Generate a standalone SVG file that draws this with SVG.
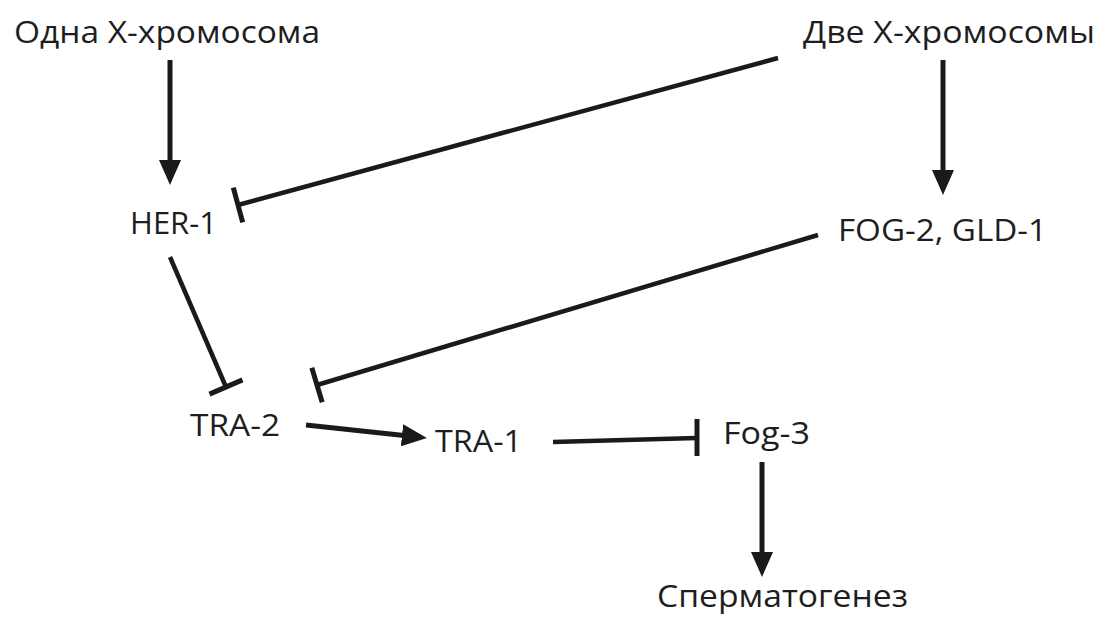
<svg xmlns="http://www.w3.org/2000/svg" width="1106" height="619" viewBox="0 0 1106 619">
<style>
text{font-family:"Open Sans","Noto Sans","Liberation Sans",sans-serif;font-size:31px;fill:#1e1e1e}
.act{stroke:#1a1a1a;stroke-width:5;fill:none;marker-end:url(#arr)}
.inh{stroke:#1a1a1a;stroke-width:4.5;fill:none}
.bar{stroke:#1a1a1a;stroke-width:5;fill:none}
</style>
<defs>
<marker id="arr" markerUnits="userSpaceOnUse" markerWidth="26" markerHeight="22" refX="2" refY="11" orient="auto" viewBox="0 0 26 22">
<path d="M0,0 L25,11 L0,22 z" fill="#1a1a1a"/>
</marker>
</defs>
<rect width="1106" height="619" fill="#ffffff"/>
<g id="n_one_x"><text x="14" y="43" textLength="306" lengthAdjust="spacingAndGlyphs">Одна X-хромосома</text></g>
<g id="n_two_x"><text x="803" y="43" textLength="292" lengthAdjust="spacingAndGlyphs">Две X-хромосомы</text></g>
<g id="n_her1"><text x="130" y="234" textLength="87" lengthAdjust="spacingAndGlyphs">HER-1</text></g>
<g id="n_fog2"><text x="838" y="241" textLength="209" lengthAdjust="spacingAndGlyphs">FOG-2, GLD-1</text></g>
<g id="n_tra2"><text x="190" y="436" textLength="90" lengthAdjust="spacingAndGlyphs">TRA-2</text></g>
<g id="n_tra1"><text x="435" y="452" textLength="87" lengthAdjust="spacingAndGlyphs">TRA-1</text></g>
<g id="n_fog3"><text x="723" y="444" textLength="87" lengthAdjust="spacingAndGlyphs">Fog-3</text></g>
<g id="n_sperm"><text x="657" y="607" textLength="251" lengthAdjust="spacingAndGlyphs">Сперматогенез</text></g>
<g id="connectors">
<line class="act" x1="170" y1="60" x2="170" y2="162"/>
<line class="act" x1="943" y1="60" x2="943" y2="172"/>
<line class="act" x1="306" y1="425" x2="404" y2="435.5"/>
<line class="act" x1="762" y1="462" x2="762" y2="554"/>
<line class="inh" x1="778" y1="58" x2="238" y2="205"/>
<line class="bar" x1="233.3" y1="187.6" x2="242.7" y2="222.4"/>
<line class="inh" x1="818" y1="235" x2="317" y2="385"/>
<line class="bar" x1="311.8" y1="367.8" x2="322.2" y2="402.2"/>
<line class="inh" x1="170" y1="257" x2="226" y2="387"/>
<line class="bar" x1="209.5" y1="394.1" x2="242.5" y2="379.9"/>
<line class="inh" x1="553" y1="442" x2="697" y2="438"/>
<line class="bar" x1="697" y1="419" x2="697" y2="456"/>
</g>
</svg>
